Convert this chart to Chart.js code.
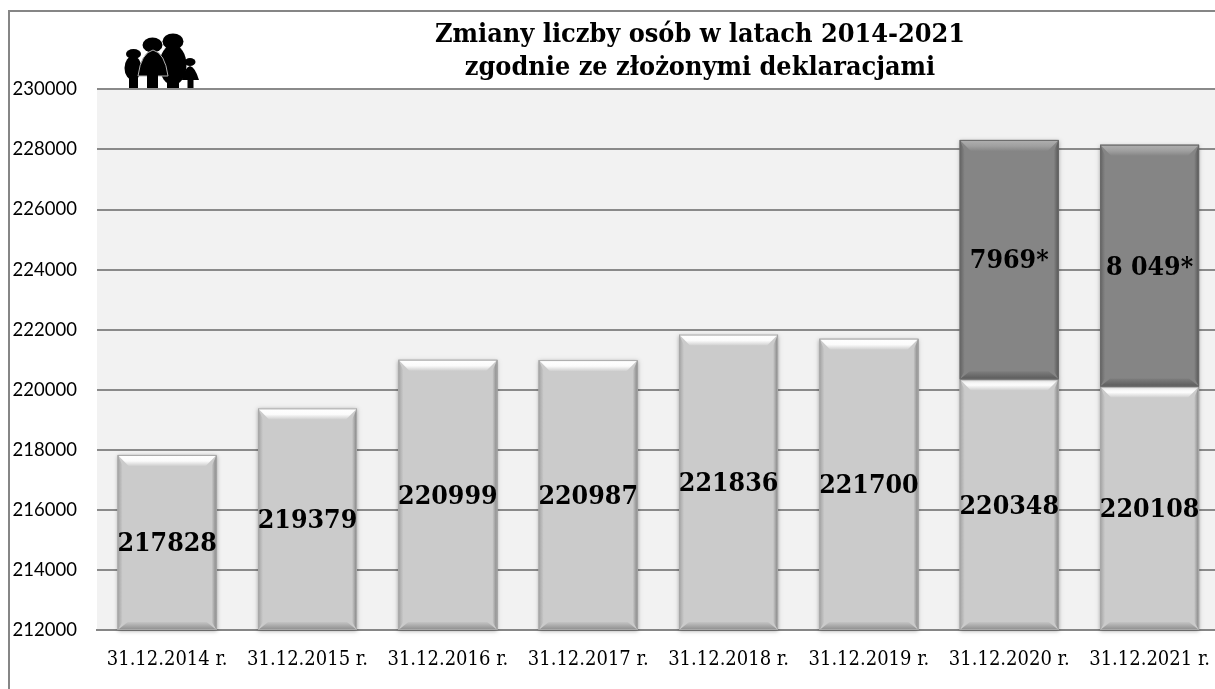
<!DOCTYPE html>
<html>
<head>
<meta charset="utf-8">
<title>Zmiany liczby osób</title>
<script src="https://cdn.jsdelivr.net/npm/chart.js@4/dist/chart.umd.min.js"></script>
<style>
html, body { margin: 0; padding: 0; background: #fff; overflow: hidden; width: 1215px; height: 689px; }
canvas { display: block; }
</style>
</head>
<body>
<canvas id="chart" width="1220" height="689"></canvas>
<script>
const categories = ["31.12.2014 r.", "31.12.2015 r.", "31.12.2016 r.", "31.12.2017 r.", "31.12.2018 r.", "31.12.2019 r.", "31.12.2020 r.", "31.12.2021 r."];
const osoby = [217828, 219379, 220999, 220987, 221836, 221700, 220348, 220108];
const dodatkowe = [null, null, null, null, null, null, 7969, 8049];
const dodatkoweLabels = ["", "", "", "", "", "", "7969*", "8 049*"];
const titleLines = ["Zmiany liczby osób w latach 2014-2021", "zgodnie ze złożonymi deklaracjami"];
const yMin = 212000, yMax = 230000, yStep = 2000;

const serifFont = '"DejaVu Serif Condensed", "Liberation Serif", serif';

// stacked bars start at 0, far below the axis, so cut them at the plot bottom
function barBase(chart, el) {
    return Math.min(el.base, chart.chartArea.bottom);
}

// light/dark look of the bevelled bars
function bevelBar(ctx, l, r, t, b, dark) {
    const top = 11, side = 5, bottom = 8;
    const trap = (pts, fill) => {
        ctx.beginPath();
        pts.forEach((p, i) => i ? ctx.lineTo(p[0], p[1]) : ctx.moveTo(p[0], p[1]));
        ctx.closePath();
        ctx.fillStyle = fill;
        ctx.fill();
    };
    const grad = (x0, y0, x1, y1, c0, c1) => {
        const g = ctx.createLinearGradient(x0, y0, x1, y1);
        g.addColorStop(0, c0);
        g.addColorStop(1, c1);
        return g;
    };
    const base = dark ? "#858585" : "#cbcbcb";
    ctx.fillStyle = base;
    ctx.fillRect(l, t, r - l, b - t);
    trap([[l, t], [l + side, t + top], [l + side, b - bottom], [l, b]],
        grad(l, 0, l + side, 0, dark ? "#626262" : "#a2a2a2", base));
    trap([[r, t], [r - side, t + top], [r - side, b - bottom], [r, b]],
        grad(r, 0, r - side, 0, dark ? "#555555" : "#808080", base));
    trap([[l, b], [l + side + 5, b - bottom], [r - side - 5, b - bottom], [r, b]],
        grad(0, b, 0, b - bottom, dark ? "#5a5a5a" : "#8c8c8c", dark ? "#7e7e7e" : "#c4c4c4"));
    const topFill = ctx.createLinearGradient(0, t, 0, t + top);
    topFill.addColorStop(0, dark ? "#b0b0b0" : "#ffffff");
    topFill.addColorStop(0.55, dark ? "#a0a0a0" : "#fbfbfb");
    topFill.addColorStop(1, dark ? "#868686" : "#cfcfcf");
    trap([[l, t], [l + side + 6, t + top], [r - side - 6, t + top], [r, t]], topFill);
    ctx.strokeStyle = dark ? "#6a6a6a" : "#a8a8a8";
    ctx.lineWidth = 1;
    ctx.strokeRect(l + 0.5, t + 0.5, r - l - 1, b - t - 1);
}

const framePlugin = {
    id: "frame",
    beforeDraw(chart) {
        const ctx = chart.ctx, a = chart.chartArea;
        ctx.save();
        ctx.fillStyle = "#f2f2f2";
        ctx.fillRect(a.left, a.top, a.right - a.left, a.bottom - a.top);
        ctx.strokeStyle = "#868686";
        ctx.lineWidth = 2;
        ctx.beginPath();
        ctx.moveTo(9, chart.height);
        ctx.lineTo(9, 11);
        ctx.lineTo(chart.width, 11);
        ctx.stroke();
        ctx.restore();
    },
    afterLayout(chart) {
        // title sits over the right part of the plot, not the middle of the canvas
        chart.titleBlock.left = 180;
    }
};

const barsPlugin = {
    id: "bars",
    afterDatasetsDraw(chart) {
        const ctx = chart.ctx;
        ctx.save();
        chart.data.datasets.forEach((ds, i) => {
            chart.getDatasetMeta(i).data.forEach((el, j) => {
                if (ds.data[j] == null) return;
                const l = el.x - el.width / 2, r = el.x + el.width / 2;
                const t = el.y, b = barBase(chart, el);
                ctx.save();
                ctx.shadowColor = "rgba(0,0,0,0.35)";
                ctx.shadowBlur = 4;
                ctx.shadowOffsetY = 1;
                ctx.fillStyle = "#999";
                ctx.fillRect(l, t, r - l, b - t);
                ctx.restore();
                bevelBar(ctx, l, r, t, b, i === 1);
            });
        });
        ctx.fillStyle = "#000";
        ctx.textAlign = "center";
        ctx.textBaseline = "middle";
        ctx.font = "bold 26.5px " + serifFont;
        chart.data.datasets.forEach((ds, i) => {
            chart.getDatasetMeta(i).data.forEach((el, j) => {
                if (ds.data[j] == null) return;
                const text = i === 1 ? dodatkoweLabels[j] : String(ds.data[j]);
                ctx.fillText(text, el.x, (el.y + barBase(chart, el)) / 2 + 2);
            });
        });
        ctx.restore();
    }
};

// family pictogram above the top gridline
const iconPlugin = {
    id: "icon",
    afterDraw(chart) {
        const ctx = chart.ctx;
        const e = (x, y, rx, ry) => { ctx.beginPath(); ctx.ellipse(x, y, rx, ry, 0, 0, Math.PI * 2); ctx.fill(); };
        ctx.save();
        ctx.fillStyle = "#000";
        // left child
        e(133.5, 54, 7.5, 5);
        e(133, 68, 8.5, 12);
        ctx.fillRect(129, 72, 9, 16);
        // father
        e(173, 41.5, 10.5, 8);
        e(173, 65, 13.5, 20);
        ctx.fillRect(167, 76, 12, 12);
        // mother
        e(152.5, 45, 10, 7.5);
        ctx.strokeStyle = "#b0b0b0";
        ctx.lineWidth = 1;
        ctx.beginPath();
        ctx.moveTo(138, 76);
        ctx.quadraticCurveTo(141, 53, 153, 50);
        ctx.quadraticCurveTo(165, 53, 168, 76);
        ctx.closePath();
        ctx.fill();
        ctx.stroke();
        ctx.fillRect(147, 74, 11, 14);
        // small child
        e(190, 62, 5.5, 4);
        ctx.beginPath();
        ctx.moveTo(182, 80);
        ctx.quadraticCurveTo(185, 67, 190, 66);
        ctx.quadraticCurveTo(195, 67, 199, 80);
        ctx.closePath();
        ctx.fill();
        ctx.fillRect(187.5, 79, 6, 9);
        ctx.restore();
    }
};

new Chart(document.getElementById("chart"), {
    type: "bar",
    data: {
        labels: categories,
        datasets: [
            { label: "Liczba osób", data: osoby, backgroundColor: "#cbcbcb", stack: "a" },
            { label: "Dodatkowe", data: dodatkowe, backgroundColor: "#858585", stack: "a" }
        ]
    },
    options: {
        responsive: false,
        animation: false,
        layout: { padding: { top: 19 } },
        datasets: { bar: { categoryPercentage: 1, barPercentage: 0.705 } },
        plugins: {
            legend: { display: false },
            tooltip: { enabled: false },
            title: {
                display: true,
                text: titleLines,
                color: "#000",
                font: { family: serifFont, size: 26.8, weight: "bold", lineHeight: 1.22 },
                padding: { top: 0, bottom: 5 }
            }
        },
        scales: {
            x: {
                stacked: true,
                afterFit: (s) => { s.height = 59; },
                grid: { display: false },
                border: { color: "#868686", width: 2 },
                ticks: { color: "#000", padding: 10, maxRotation: 0, autoSkip: false, font: { family: serifFont, size: 20 } }
            },
            y: {
                stacked: true,
                min: yMin,
                max: yMax,
                afterFit: (s) => { s.width = 97; },
                grid: { color: "#8a8a8a", lineWidth: 2, drawTicks: false },
                border: { display: false },
                ticks: { color: "#000", stepSize: yStep, padding: 20, callback: (v) => String(v), font: { family: "Lato", size: 18.5 } }
            }
        }
    },
    plugins: [framePlugin, barsPlugin, iconPlugin]
});
</script>
</body>
</html>
